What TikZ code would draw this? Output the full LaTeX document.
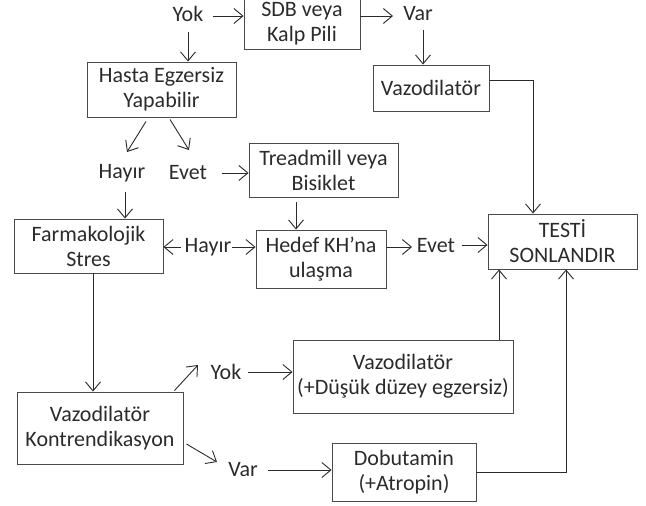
\documentclass[tikz,border=0pt]{standalone}
\usepackage{fontspec}
\setmainfont{Carlito}
\usetikzlibrary{arrows.meta,calc}
\definecolor{ink}{HTML}{2B2B2B}
\definecolor{frame}{HTML}{4A4A4A}
\begin{document}
\begin{tikzpicture}[x=1pt,y=-1pt,
  font=\fontsize{22}{25}\selectfont, text=ink,
  box/.style={draw=frame, line width=0.9pt, align=center, inner sep=0pt},
  lab/.style={inner sep=0pt},
  arr/.style={draw=ink, line width=0.9pt, -{Straight Barb[length=9pt,width=15pt,line width=0.9pt]}}]
\useasboundingbox (0,0) rectangle (646,506);
% boxes
\node[box, minimum width=116pt, minimum height=51pt] (sdb) at (302,23.5) {SDB veya\\Kalp Pili};
\node[box, minimum width=149pt, minimum height=55pt] (hasta) at (161.5,89.5) {Hasta Egzersiz\\Yapabilir};
\node[box, minimum width=116pt, minimum height=46pt] (vaz1) at (431,88) {Vazodilatör};
\node[box, minimum width=149pt, minimum height=54pt] (tread) at (323.5,170) {Treadmill veya\\Bisiklet};
\node[box, minimum width=149pt, minimum height=54pt] (farm) at (88.5,246) {Farmakolojik\\Stres};
\node[box, minimum width=130pt, minimum height=58pt] (hedef) at (321,259) {Hedef KH’na\\ulaşma};
\node[box, minimum width=149pt, minimum height=55pt] (testi) at (562.5,241.5) {TESTİ\\SONLANDIR};
\node[box, minimum width=220pt, minimum height=73pt] (dusuk) at (403,376.5) {Vazodilatör\\(+Düşük düzey egzersiz)};
\node[box, minimum width=166pt, minimum height=72pt] (kontr) at (100,428) {Vazodilatör\\Kontrendikasyon};
\node[box, minimum width=144pt, minimum height=58pt] (dobu) at (404,472) {Dobutamin\\(+Atropin)};
% labels
\node[lab] (yok1) at (188,14) {Yok};
\node[lab] (var1) at (418,14) {Var};
\node[lab] (hayir1) at (122,173) {Hayır};
\node[lab] (evet1) at (188,173) {Evet};
\node[lab] (hayir2) at (208,247) {Hayır};
\node[lab] (evet2) at (436,246) {Evet};
\node[lab] (yok2) at (226,372) {Yok};
\node[lab] (var2) at (243,470) {Var};
% helper coordinates
\coordinate (c1) at ($(yok1)+(25,2)$);
\coordinate (c2) at ($(var1)+(-25,2)$);
\coordinate (c3) at ($(var1)+(5,16)$);
\coordinate (c4) at ($(yok1)+(0,18)$);
\coordinate (c7) at ($(evet1)+(34,0)$);
\coordinate (c8) at ($(hayir1)+(3,19)$);
\coordinate (c9) at ([shift={(-27.5,5)}]tread.south);
\coordinate (c10) at ([xshift=-4pt]hayir2.west);
\coordinate (c11) at ([xshift=1pt]hayir2.east);
\coordinate (c12) at ($(evet2)+(-24,1)$);
\coordinate (c13) at ($(evet2)+(26,-1)$);
\coordinate (c15) at ([xshift=96pt]dusuk.north);
\coordinate (c17) at ([xshift=4.5pt]farm.south);
\coordinate (c19) at ($(yok2)+(22,0)$);
\coordinate (c21) at ($(var2)+(25,0)$);
% connectors
\draw[arr] (c1) -- (c1 -| sdb.west);
\draw[arr] (c2 -| sdb.east) -- (c2);
\draw[arr] (c3) -- (c3 |- vaz1.north);
\draw[arr] (c4) -- (c4 |- hasta.north);
\draw[arr] ([shift={(-15.5,4)}]hasta.south) -- ($(hayir1)+(5,-21)$);
\draw[arr] ([shift={(8.5,2)}]hasta.south) -- ($(evet1)+(1,-23)$);
\draw[arr] (c7) -- (c7 -| tread.west);
\draw[arr] (c8) -- (c8 |- farm.north);
\draw[arr] (c9) -- (c9 |- hedef.north);
\draw[arr] (c10) -- (c10 -| farm.east);
\draw[arr] (c11) -- (c11 -| hedef.west);
\draw[arr] (c12 -| hedef.east) -- (c12);
\draw[arr] (c13) -- (c13 -| testi.west);
\draw[arr] ([yshift=8pt]vaz1.east) -| ([xshift=-29.5pt]testi.north);
\draw[arr] (c15) -- (c15 |- testi.south);
\draw[arr] (dobu.east) -| ([xshift=3.5pt]testi.south);
\draw[arr] (c17) -- (c17 |- kontr.north);
\draw[arr] ([shift={(-9,-1)}]kontr.north east) -- ($(yok2)+(-28,-7)$);
\draw[arr] (c19) -- (c19 -| dusuk.west);
\draw[arr] ([shift={(3,16)}]kontr.east) -- ($(var2)+(-26,-8)$);
\draw[arr] (c21) -- (c21 -| dobu.west);
\end{tikzpicture}
\end{document}
